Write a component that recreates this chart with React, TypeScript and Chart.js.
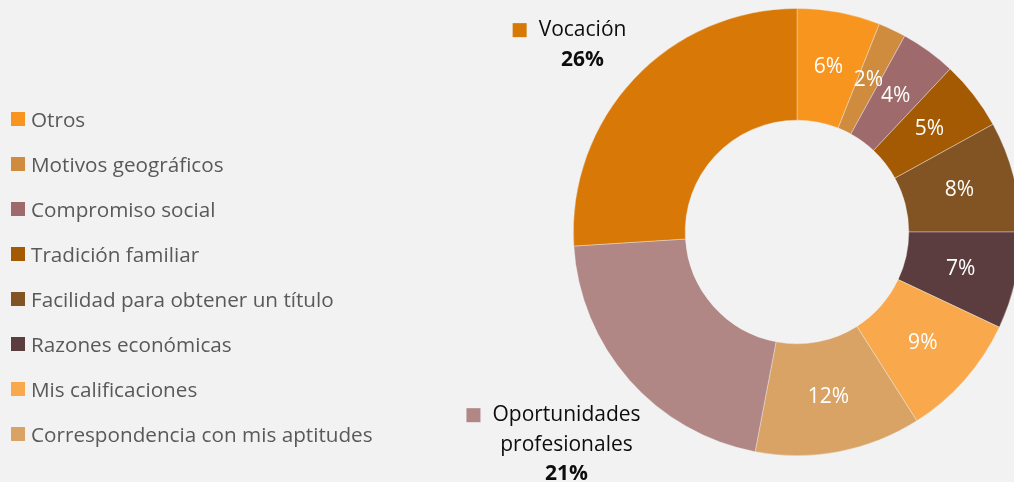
import React, { useEffect, useRef } from 'react';
import { Chart, registerables } from 'chart.js';

Chart.register(...registerables);

const categories = [
  'Otros',
  'Motivos geográficos',
  'Compromiso social',
  'Tradición familiar',
  'Facilidad para obtener un título',
  'Razones económicas',
  'Mis calificaciones',
  'Correspondencia con mis aptitudes',
  'Oportunidades profesionales',
  'Vocación',
];
const values = [6, 2, 4, 5, 8, 7, 9, 12, 21, 26];
const colors = [
  '#F8951F',
  '#CF8C3F',
  '#9E6A6B',
  '#A45A03',
  '#825423',
  '#5C3D3F',
  '#F9A94B',
  '#D9A365',
  '#B08785',
  '#D87807',
];
// Categories labelled outside the ring (with line breaks), the rest inside
const calloutLines: Record<number, string[]> = {
  8: ['Oportunidades', 'profesionales'],
  9: ['Vocación'],
};
const calloutDistance: Record<number, number> = { 8: 90, 9: 61 };
const calloutAngleNudgeDeg: Record<number, number> = { 8: -1.3, 9: -2.1 };
const legendCount = 8;

const FONT = '"Open Sans", "DejaVu Sans", sans-serif';

const labelPlugin = {
  id: 'sliceLabels',
  afterDatasetsDraw(chart: any) {
    const ctx = chart.ctx;
    const meta = chart.getDatasetMeta(0);
    ctx.save();
    meta.data.forEach((arc: any, i: number) => {
      const v = values[i];
      if (calloutLines[i]) {
        const { x, y, startAngle, endAngle, outerRadius } = arc.getProps(
          ['x', 'y', 'startAngle', 'endAngle', 'outerRadius'],
          true
        );
        const a = (startAngle + endAngle) / 2 + (calloutAngleNudgeDeg[i] * Math.PI) / 180;
        const r = outerRadius + calloutDistance[i];
        const ax = x + Math.cos(a) * r;
        const ay = y + Math.sin(a) * r;
        const lines = calloutLines[i];
        const lh = 29.5;
        const n = lines.length + 1;
        const y0 = ay - ((n - 1) * lh) / 2;
        ctx.textAlign = 'center';
        ctx.textBaseline = 'middle';
        ctx.fillStyle = '#0d0d0d';
        ctx.font = `21px ${FONT}`;
        lines.forEach((ln, k) => ctx.fillText(ln, ax, y0 + k * lh));
        const w0 = ctx.measureText(lines[0]).width;
        ctx.fillStyle = colors[i];
        ctx.fillRect(ax - w0 / 2 - 12 - 14, y0 - 7, 14, 14);
        ctx.fillStyle = '#0d0d0d';
        ctx.font = `bold 21px ${FONT}`;
        ctx.fillText(`${v}%`, ax, y0 + lines.length * lh);
      } else {
        const p = arc.getCenterPoint();
        ctx.fillStyle = '#ffffff';
        ctx.font = `21px ${FONT}`;
        ctx.textAlign = 'center';
        ctx.textBaseline = 'middle';
        ctx.fillText(`${v}%`, p.x, p.y);
      }
    });
    ctx.restore();
  },
};

export default function App() {
  const ref = useRef<HTMLCanvasElement | null>(null);

  useEffect(() => {
    if (!ref.current) return;
    const chart = new Chart(ref.current, {
      type: 'doughnut',
      data: {
        labels: categories,
        datasets: [
          {
            data: values,
            backgroundColor: colors,
            borderColor: 'rgba(242,242,242,0.5)',
            borderWidth: 0.75,
          },
        ],
      },
      options: {
        responsive: false,
        animation: false,
        cutout: '50%',
        layout: { padding: { left: 573, right: 9, top: 8, bottom: 26 } },
        plugins: {
          legend: { display: false },
          tooltip: { enabled: false },
        },
      },
      plugins: [labelPlugin],
    });
    return () => chart.destroy();
  }, []);

  return (
    <div
      style={{
        position: 'absolute',
        left: 0,
        top: 0,
        width: 1014,
        height: 482,
        background: '#f2f2f2',
        overflow: 'hidden',
      }}
    >
      <canvas ref={ref} width={1030} height={482} style={{ position: 'absolute', left: 0, top: 0 }} />
      {categories.slice(0, legendCount).map((c, i) => (
        <div
          key={c}
          style={{
            position: 'absolute',
            left: 11,
            top: 118.5 + i * 45 - 14,
            height: 28,
            display: 'flex',
            alignItems: 'center',
            fontFamily: FONT,
            fontSize: 20.7,
            color: '#595959',
            whiteSpace: 'nowrap',
          }}
        >
          <span
            style={{
              display: 'inline-block',
              width: 14,
              height: 14,
              background: colors[i],
              marginRight: 6,
            }}
          />
          {c}
        </div>
      ))}
    </div>
  );
}
